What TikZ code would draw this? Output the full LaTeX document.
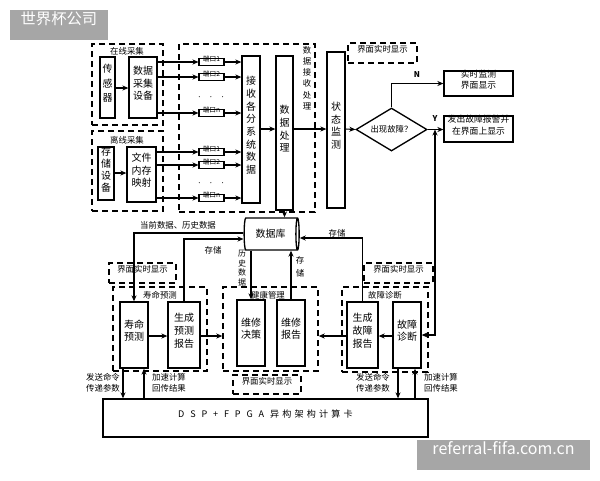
\documentclass[tikz,border=0pt]{standalone}
\usepackage{fontspec}
\setmainfont{Noto Sans CJK SC}
\usetikzlibrary{arrows.meta,shapes.geometric,fit}
\definecolor{wmgray}{RGB}{166,166,166}
\begin{document}
\begin{tikzpicture}[x=0.75pt,y=-0.75pt,
  font=\fontsize{7.5}{9.5}\selectfont,
  box/.style={draw, line width=1pt, inner sep=0pt, align=center},
  dbox/.style={draw, line width=1.1pt, dash pattern=on 4.5pt off 3pt, inner sep=0pt, align=center},
  lab/.style={font=\fontsize{6.3}{8}\selectfont, inner sep=0pt, align=center},
  port/.style={draw, line width=0.8pt, inner sep=0pt, font=\fontsize{5}{5.5}\selectfont},
  arr/.style={line width=0.8pt, -{Stealth[length=4.5pt,width=3.8pt]}},
  barr/.style={line width=0.8pt, {Stealth[length=4.5pt,width=3.8pt]}-{Stealth[length=4.5pt,width=3.8pt]}},
  ln/.style={line width=0.8pt},
]
\fill[white] (0,0) rectangle (600,480);
\useasboundingbox (0,0) rectangle (600,480);

% ---------- dashed groups ----------
\node[dbox, fit={(92,44) (163,125)}] (online) {};
\node[lab] (lonline) at (127,51) {在线采集};
\node[dbox, fit={(92,131) (163,211)}] (offline) {};
\node[lab] (loffline) at (127,140) {离线采集};
\node[dbox, fit={(179,44) (315,212)}] (recvdash) {};
\node[lab, anchor=north, font=\fontsize{6.3}{8.4}\selectfont] (lrecv) at (307,46) {数\\据\\接\\收\\处\\理};
\node[dbox, fit={(348,43) (417,63)}, font=\fontsize{6.3}{8}\selectfont] (ui1) {界面实时显示};
\node[dbox, fit={(109,263) (176,283)}, font=\fontsize{6.3}{8}\selectfont] (ui2) {界面实时显示};
\node[dbox, fit={(364,263) (433,283)}, font=\fontsize{6.3}{8}\selectfont] (ui3) {界面实时显示};
\node[dbox, fit={(233,375) (301,394)}, font=\fontsize{6.3}{8}\selectfont] (ui4) {界面实时显示};
\node[dbox, fit={(113,287) (207,371)}] (lifedash) {};
\node[lab] (llife) at (160,295) {寿命预测};
\node[dbox, fit={(223,287) (318,371)}] (healthdash) {};
\node[lab] (lhealth) at (268,295) {健康管理};
\node[dbox, fit={(342,287) (428,372)}] (faultdash) {};
\node[lab] (lfault) at (385,295) {故障诊断};

% ---------- solid boxes ----------
\node[box, fit={(100,57) (115,118)}, font=\fontsize{7.5}{11}\selectfont] (sensor) {传\\感\\器};
\node[box, fit={(129,57) (157,118)}] (daq) {数据\\采集\\设备};
\node[box, fit={(98,147) (114,200)}, font=\fontsize{7.5}{9}\selectfont] (storage) {存\\储\\设\\备};
\node[box, fit={(127,147) (156,202)}] (fmap) {文件\\内存\\映射};
\foreach \n/\y/\t in {a1/62/端口1, a2/77/端口2, an/113/端口n, b1/152/端口1, b2/165/端口2, bn/198/端口n}
  \node[port, fit={(199,\y-3.8) (224,\y+3.8)}] (p\n) {\t};
\node[inner sep=0pt] (dotsa) at (211,97) {$\cdot\;\;\cdot\;\;\cdot$};
\node[inner sep=0pt] (dotsb) at (211,183) {$\cdot\;\;\cdot\;\;\cdot$};
\node[box, fit={(242,56) (260,203)}] (recv) {接\\收\\各\\分\\系\\统\\数\\据};
\node[box, fit={(276,56) (293,210)}] (proc) {数\\据\\处\\理};
\node[box, fit={(327,52) (345,208)}] (state) {状\\态\\监\\测};
\node[draw, diamond, line width=1pt, inner sep=0pt, aspect=1.65,
      minimum width=53.25pt, minimum height=32.25pt, font=\fontsize{6.3}{8}\selectfont] (dia) at (391.5,129.5) {出现故障？};
\node[box, fit={(444,71) (513,96)}, font=\fontsize{6.6}{8.5}\selectfont] (rt) {实时监测\\界面显示};
\node[box, fit={(444,116) (513,142)}, font=\fontsize{6.6}{8.5}\selectfont] (alarm) {发出故障报警并\\在界面上显示};
\node[draw, cylinder, shape border rotate=0, aspect=0.35, line width=1pt, inner sep=0pt,
      minimum width=24pt, minimum height=41.25pt] (db) at (270.5,234) {数据库};
\node[box, fit={(120,302) (148,368)}] (life) {寿命\\预测};
\node[box, fit={(168,302) (200,368)}] (genlife) {生成\\预测\\报告};
\node[box, fit={(237,300) (265,366)}] (maint) {维修\\决策};
\node[box, fit={(277,300) (305,366)}] (mrep) {维修\\报告};
\node[box, fit={(347,302) (378,368)}] (genfault) {生成\\故障\\报告};
\node[box, fit={(393,302) (421,368)}] (fault) {故障\\诊断};
\newcommand\lsp{\hspace{4.4pt}}
\newcommand\csp{\hspace{2.4pt}}
\node[box, fit={(103,399) (428,437)}, font=\fontsize{6.8}{8}\selectfont] (dsp)
  {D\lsp S\lsp P\lsp +\lsp F\lsp P\lsp G\lsp A\lsp 异\csp 构\csp 架\csp 构\csp 计\csp 算\csp 卡};

% ---------- connectors ----------
\draw[arr] (sensor.east |- 0,88) -- (daq.west |- 0,88);
\draw[arr] (storage.east |- 0,173) -- (fmap.west |- 0,173);
\foreach \n in {a1,a2,an} {
  \draw[arr] (daq.east |- p\n) -- (p\n);
  \draw[arr] (p\n) -- (recv.west |- p\n);
}
\foreach \n in {b1,b2,bn} {
  \draw[arr] (fmap.east |- p\n) -- (p\n);
  \draw[arr] (p\n) -- (recv.west |- p\n);
}
\draw[arr] (recv.east |- 0,129) -- (proc.west |- 0,129);
\draw[arr] (proc.east |- 0,129) -- (state.west |- 0,129);
\draw[arr] (state.east |- 0,129) -- (dia.west);
\draw[arr] (dia.north) |- (rt.west);
\node[font=\fontsize{6}{7}\selectfont\bfseries, inner sep=0pt] (lN) at (417,75) {N};
\draw[arr] (dia.east) -- (alarm.west |- dia.east);
\node[font=\fontsize{6}{7}\selectfont\bfseries, inner sep=0pt] (lY) at (435,119) {Y};
\coordinate (yj) at (435,129.5);
\draw[barr] (yj) |- (fault.east);
\draw[arr] (proc.south) -- (proc.south |- db.north);
\draw[arr] (db.west |- 0,233) -| (life.north);
\node[lab] (lcur) at (178,225) {当前数据、历史数据};
\draw[arr] (genlife.north) |- (db.west |- 0,239);
\node[lab] (lst1) at (213,250) {存储};
\draw[arr] (maint.north |- db.south) -- (maint.north);
\node[lab, font=\fontsize{6}{7.2}\selectfont] (lhist) at (242,268) {历\\史\\数\\据};
\draw[arr] (mrep.north) -- (mrep.north |- db.south);
\node[lab, font=\fontsize{6.3}{10}\selectfont] (lst2) at (300,267) {存\\储};
\draw[arr] (genfault.north) |- (db.east |- 0,238);
\node[lab] (lst3) at (337,233) {存储};
\draw[arr] (life.east |- 0,336) -- (genlife.west |- 0,336);
\draw[arr] (genlife.east |- 0,336) -- (healthdash.west |- 0,336);
\draw[arr] (fault.west |- 0,336) -- (genfault.east |- 0,336);
\draw[arr] (genfault.west |- 0,336) -- (healthdash.east |- 0,336);
\draw[arr] (life.south -| 123,0) -- (dsp.north -| 123,0);
\draw[arr] (dsp.north -| 144,0) -- (life.south -| 144,0);
\draw[arr] (fault.south -| 398,0) -- (dsp.north -| 398,0);
\draw[arr] (dsp.north -| 415,0) -- (fault.south -| 415,0);
\node[lab] (lsend1) at (103,383) {发送命令\\传递参数};
\node[lab] (lacc1) at (169,383) {加速计算\\回传结果};
\node[lab] (lsend2) at (373,383) {发送命令\\传递参数};
\node[lab] (lacc2) at (441,383) {加速计算\\回传结果};

% ---------- watermarks ----------
\node[fill=wmgray, inner sep=0pt, fit={(10,10) (108,40)}, text=white, font=\fontsize{11.5}{13}\selectfont] (wm1) {世界杯公司};
\node[fill=wmgray, inner sep=0pt, fit={(417,440) (590,470)}, text=white, font=\fontsize{12}{13}\selectfont] (wm2) {referral-fifa.com.cn};
\end{tikzpicture}
\end{document}
